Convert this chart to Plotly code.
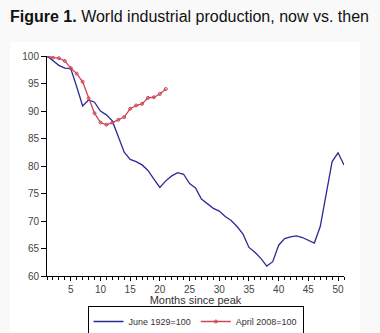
import plotly.graph_objects as go

months_1929 = list(range(1, 52))
june_1929 = [100, 99.2, 98.3, 97.8, 97.7, 94.4, 90.9, 92.0, 91.6, 90.0,
             89.3, 88.2, 85.5, 82.5, 81.2, 80.8, 80.2, 79.2, 77.6, 76.1,
             77.3, 78.2, 78.8, 78.5, 76.8, 76.0, 74.0, 73.2, 72.3, 71.8,
             70.8, 70.1, 69.0, 67.6, 65.2, 64.3, 63.2, 61.8, 62.6, 65.6,
             66.8, 67.1, 67.3, 67.0, 66.5, 66.0, 69.0, 75.3, 80.8, 82.4,
             80.2]
months_2008 = list(range(1, 22))
april_2008 = [100, 99.7, 99.6, 99.1, 97.8, 96.8, 95.3, 92.3, 89.6, 87.9,
              87.5, 87.9, 88.4, 88.9, 90.4, 91.0, 91.3, 92.4, 92.5, 93.1,
              94.0]
x_ticks = [5, 10, 15, 20, 25, 30, 35, 40, 45, 50]
y_ticks = [60, 65, 70, 75, 80, 85, 90, 95, 100]

fig = go.Figure()
fig.add_trace(go.Scatter(x=months_1929, y=june_1929, mode="lines",
                         name="June 1929=100",
                         line=dict(color="#2b2b96", width=1.3)))
fig.add_trace(go.Scatter(x=months_2008, y=april_2008, mode="lines+markers",
                         name="April 2008=100",
                         line=dict(color="#cc4455", width=1.3),
                         marker=dict(symbol="circle-open", size=3,
                                     color="#cc4455", line=dict(width=1))))

fig.add_shape(type="rect", xref="paper", yref="paper",
              x0=-0.1246, x1=1.0539, y0=-0.259, y1=1.0636,
              fillcolor="white", line=dict(width=0), layer="below")

tick_font = dict(family="Liberation Sans, Arial, sans-serif", size=10, color="#444")
fig.update_layout(
    width=380, height=333,
    margin=dict(l=47, r=36, t=56, b=57, autoexpand=False),
    paper_bgcolor="#f9f9f9", plot_bgcolor="white",
    showlegend=True,
    title=dict(text="<b>Figure 1.</b> World industrial production, now vs. then",
               xref="container", yref="container", x=10/380, xanchor="left",
               y=1-16/333, yanchor="middle",
               font=dict(family="Liberation Sans, Arial, sans-serif", size=16, color="#111")),
    legend=dict(orientation="h", x=0.5, xanchor="center",
                yref="container", y=1-306/333, yanchor="top",
                bordercolor="black", borderwidth=1, bgcolor="white",
                font=dict(family="Liberation Sans, Arial, sans-serif", size=9, color="#333"),
                itemwidth=30, tracegroupgap=0),
    xaxis=dict(range=[1, 51], tickvals=x_ticks, ticks="outside", ticklen=4,
               tickcolor="black", showline=True, linecolor="black", linewidth=1,
               showgrid=False, zeroline=False, tickfont=tick_font,
               minor=dict(dtick=1, tick0=0, ticks="outside", ticklen=3, tickcolor="black", showgrid=False),
               title=dict(text="Months since peak", standoff=5,
                          font=dict(family="Liberation Sans, Arial, sans-serif", size=11, color="#333"))),
    yaxis=dict(range=[60, 100], tickvals=y_ticks, ticks="outside", ticklen=5,
               tickcolor="black", showline=True, linecolor="black", linewidth=1,
               showgrid=False, zeroline=False, tickfont=tick_font),
)
fig.write_html("out.html")
